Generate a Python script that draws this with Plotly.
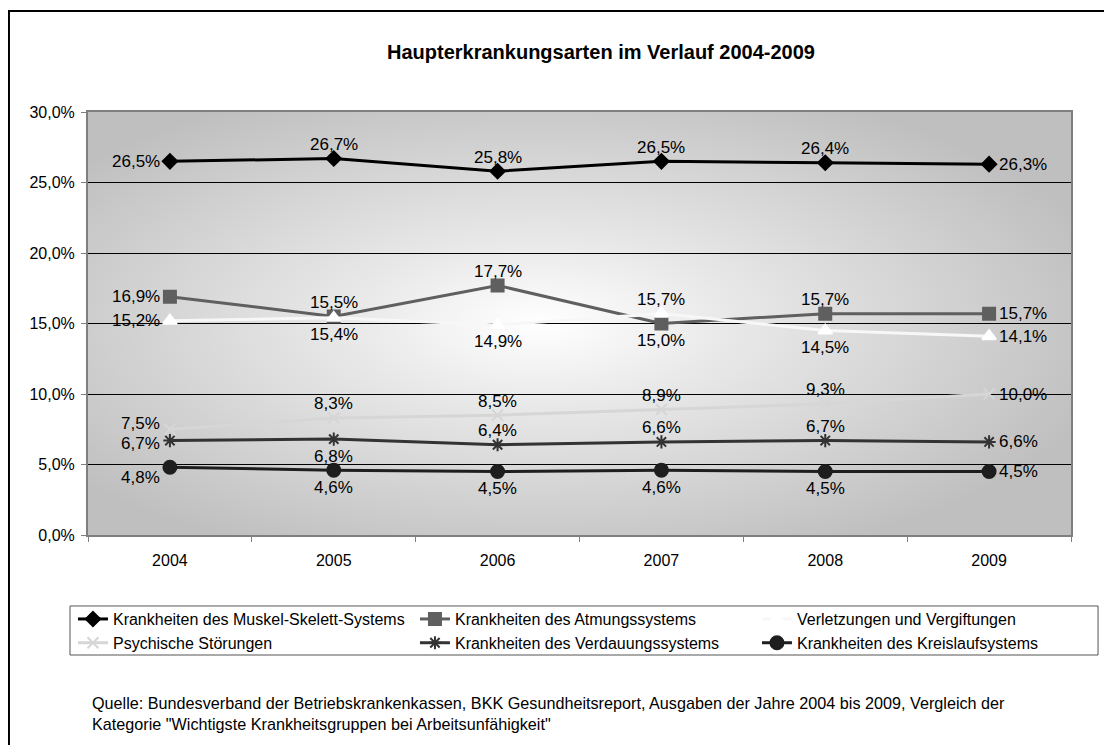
import base64
import plotly.graph_objects as go

# data (values in percent)
years = ["2004", "2005", "2006", "2007", "2008", "2009"]
muskel = [26.5, 26.7, 25.8, 26.5, 26.4, 26.3]
atmung = [16.9, 15.5, 17.7, 15.0, 15.7, 15.7]
verletzung = [15.2, 15.4, 14.9, 15.7, 14.5, 14.1]
psyche = [7.5, 8.3, 8.5, 8.9, 9.3, 10.0]
verdauung = [6.7, 6.8, 6.4, 6.6, 6.7, 6.6]
kreislauf = [4.8, 4.6, 4.5, 4.6, 4.5, 4.5]

names = [
    "Krankheiten des Muskel-Skelett-Systems",
    "Krankheiten des Atmungssystems",
    "Verletzungen und Vergiftungen",
    "Psychische Störungen",
    "Krankheiten des Verdauungssystems",
    "Krankheiten des Kreislaufsystems",
]
series = [muskel, atmung, verletzung, psyche, verdauung, kreislauf]

# label placement per point: L=left, T=above, B=below, R=right
label_pos = [
    "LTTTTR",
    "LTTBTR",
    "LBBTBR",
    "LTTTTR",
    "LBTTTR",
    "LBBBBR",
]
# small manual nudges (px, up positive) like the hand-placed Excel labels
nudges = {(3, 0): 6, (4, 0): -3, (5, 0): -10}

styles = [
    dict(color="#000000", symbol="diamond", size=11, mcolor="#000000"),
    dict(color="#5f5f5f", symbol="square", size=12, mcolor="#5f5f5f"),
    dict(color="#f7f7f7", symbol="triangle-up", size=12, mcolor="#ffffff"),
    dict(color="#d6d6d6", symbol="x-thin-open", size=11, mcolor="#d6d6d6"),
    dict(color="#333333", symbol="asterisk-open", size=11, mcolor="#333333"),
    dict(color="#1e1e1e", symbol="circle", size=13, mcolor="#1e1e1e"),
]

FONT = "Liberation Sans, Arial, sans-serif"

fig = go.Figure()

for i, (name, vals, st) in enumerate(zip(names, series, styles)):
    fig.add_trace(go.Scatter(
        x=years,
        y=vals,
        name=name,
        mode="lines+markers",
        line=dict(color=st["color"], width=3),
        marker=dict(symbol=st["symbol"], size=st["size"], color=st["mcolor"],
                    line=dict(color=st["mcolor"], width=2)),
        cliponaxis=False,
    ))
    # data labels (x given as category index)
    for j, v in enumerate(vals):
        p = label_pos[i][j]
        dy = nudges.get((i, j), 0)
        ann = dict(x=j, y=v, text=f"{v:.1f}%".replace(".", ","),
                   showarrow=False, font=dict(family=FONT, size=17, color="#000000"),
                   yanchor="middle")
        if p == "L":
            ann.update(xanchor="right", xshift=-8, yshift=dy)
        elif p == "R":
            ann.update(xanchor="left", xshift=8, yshift=dy)
        elif p == "T":
            ann.update(xanchor="center", yshift=14 + dy)
        else:
            ann.update(xanchor="center", yshift=-17 + dy)
        fig.add_annotation(**ann)

# radial grey gradient behind the plot area, like the Excel fill
svg = ('<svg xmlns="http://www.w3.org/2000/svg" width="983" height="423" preserveAspectRatio="none">'
       '<defs><radialGradient id="g" cx="0.46" cy="0.5" r="0.6">'
       '<stop offset="0" stop-color="#ffffff"/>'
       '<stop offset="0.3" stop-color="#eaeaea"/>'
       '<stop offset="1" stop-color="#bfbfbf"/>'
       '</radialGradient></defs>'
       '<rect width="100%" height="100%" fill="url(#g)"/></svg>')
bg_uri = "data:image/svg+xml;base64," + base64.b64encode(svg.encode()).decode()

# the page body adds 8px around the figure, so the figure is 8px smaller
fig.update_layout(
    width=1104,
    height=737,
    margin=dict(l=80, r=41, t=104, b=210),
    paper_bgcolor="white",
    plot_bgcolor="#c0c0c0",
    separators=",.",
    font=dict(family=FONT, size=16, color="#000000"),
    showlegend=True,
    legend=dict(
        orientation="h",
        x=-0.0153, xanchor="left",
        y=-0.1585, yanchor="top",
        borderwidth=0,
        bgcolor="rgba(0,0,0,0)",
        font=dict(family=FONT, size=16),
        entrywidth=297,
        tracegroupgap=0,
    ),
    images=[dict(
        source=bg_uri, xref="paper", yref="paper",
        x=0, y=1, sizex=1, sizey=1, sizing="stretch",
        xanchor="left", yanchor="top", layer="below",
    )],
)

fig.update_yaxes(
    range=[0, 30], dtick=5, tickformat=".1f", ticksuffix="%",
    showgrid=True, gridcolor="#000000", gridwidth=1,
    showline=True, linecolor="#7f7f7f", linewidth=2, mirror=True,
    ticks="outside", ticklen=5, tickcolor="#7f7f7f",
    ticklabelstandoff=3,
    tickfont=dict(size=16), zeroline=False,
)
fig.update_xaxes(
    type="category", categoryorder="array", categoryarray=years,
    range=[-0.5, len(years) - 0.5], tickson="boundaries",
    showgrid=False, tickangle=0,
    showline=True, linecolor="#7f7f7f", linewidth=2, mirror=True,
    ticks="outside", ticklen=5, tickcolor="#7f7f7f",
    ticklabelstandoff=10,
    tickfont=dict(size=16),
)

# title, footnote, legend frame and outer frame
fig.add_annotation(
    text="<b>Haupterkrankungsarten im Verlauf 2004-2009</b>",
    xref="paper", yref="paper", x=0.522, y=1.142,
    xanchor="center", yanchor="middle",
    showarrow=False, font=dict(family=FONT, size=20),
)
fig.add_annotation(
    text=("Quelle: Bundesverband der Betriebskrankenkassen, BKK Gesundheitsreport, "
          "Ausgaben der Jahre 2004 bis 2009, Vergleich der<br>"
          "Kategorie \"Wichtigste Krankheitsgruppen bei Arbeitsunfähigkeit\""),
    xref="paper", yref="paper", x=0.002, y=-0.372,
    xanchor="left", yanchor="top", align="left",
    showarrow=False, font=dict(family=FONT, size=16.2),
)
fig.add_shape(
    type="rect", xref="paper", yref="paper",
    x0=-0.0183, x1=1.0275, y0=-0.2837, y1=-0.1678,
    line=dict(color="#555555", width=1), fillcolor="rgba(0,0,0,0)",
    layer="above",
)
fig.add_shape(
    type="rect", xref="paper", yref="paper",
    x0=-0.0804, x1=1.06, y0=-0.55, y1=1.2388,
    line=dict(color="#000000", width=2), fillcolor="rgba(0,0,0,0)",
    layer="above",
)

fig.write_html("out.html")
